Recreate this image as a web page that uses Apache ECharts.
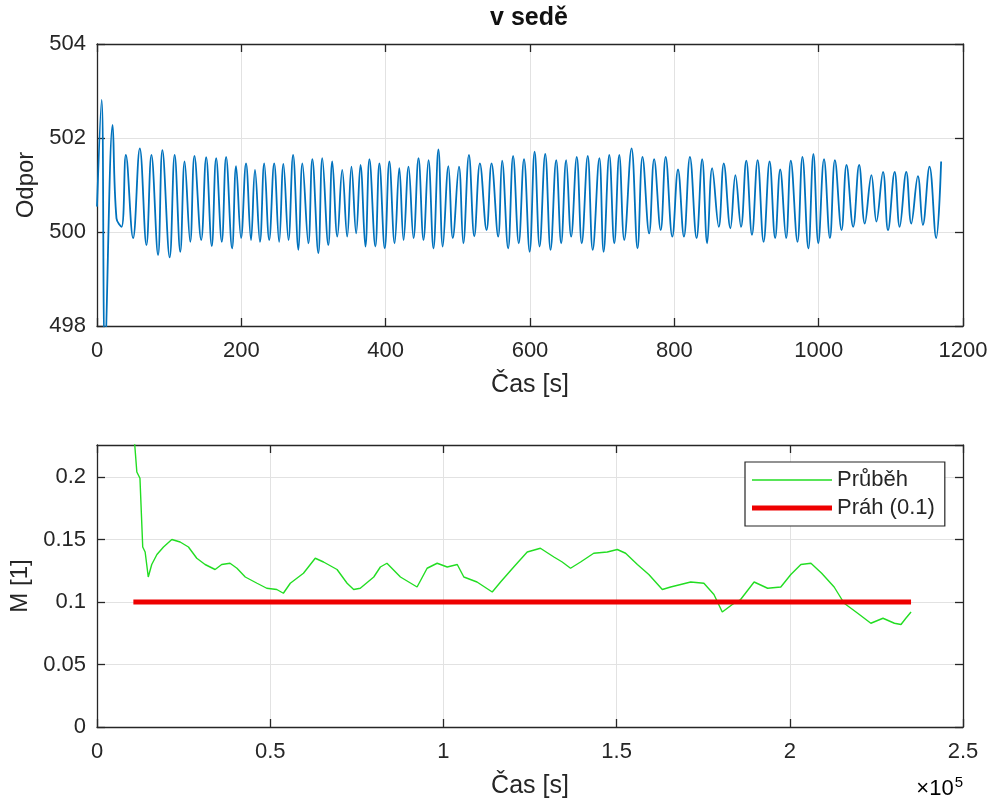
<!DOCTYPE html>
<html>
<head>
<meta charset="utf-8">
<script src="https://cdn.jsdelivr.net/npm/echarts@6/dist/echarts.min.js"></script>
<style>
html,body{margin:0;padding:0;background:#fff;}
#chart{width:996px;height:800px;}
</style>
</head>
<body>
<div id="chart"></div>
<script>
// ---- Top panel: resistance vs time ----
const titleText = 'v sedě';
const topXTicks = [0, 200, 400, 600, 800, 1000, 1200];
const topYTicks = [498, 500, 502, 504];
const timeTop = [0,6.4,11,21.6,27,34,40,50,59.3,68.5,75.4,84.6,90.6,100.7,107.6,115.4,121.4,129.2,135,144.4,151.3,159,165.1,172.9,178.9,187.2,192.7,199.6,206.5,213.4,218.9,225.8,231.7,238.6,245.5,252.4,258.3,
265.3,271.7,279.1,284.6,292.9,298.4,306.7,312.2,320.5,326.0,333.0,339.8,346.7,352.6,359.1,365.1,371.9,377.5,385.7,391.3,398.7,405.1,412.4,418.9,424.8,431.7,438.6,445.5,452.4,459.3,466.2,473.1,479.1,486.9,493,501.6,507.6,515.4,522.8,530.6,539.8,546.7,555.9,561.4,569.7,576.6,584.4,591.7,599.5,606.4,613.3,621.1,628.5,636.3,643.2,650.1,657.0,664.8,671.7,680.0,686.9,696.1,702,709.9,716.8,723.7,730.6,
740.7,749.0,755.9,765.1,772.0,781.1,788.0,797.2,805.1,813.3,821.6,830.8,838.6,845.5,852.4,861.6,868.5,877.7,884.6,892.4,899.7,907.6,915.4,923.7,932.0,939.7,946.7,954.9,961.4,970.6,977.5,985.7,992.7,999.5,1007.4,1015.6,1022.5,1031.7,1038.6,1047.8,1056.1,1063.9,1073.1,1080.0,1089.2,1096.1,1105.3,1112.2,1121.4,1128.3,1137.5,1144.4,1153.6,1162.8,1169.7];
const resistance = [500.54,502.81,497.5,502.28,500.29,500.11,501.64,499.87,501.78,499.72,501.64,499.51,501.74,499.46,501.64,499.58,501.50,499.79,501.62,499.83,501.59,499.70,501.57,499.79,501.60,499.65,501.40,499.87,501.46,499.83,501.32,499.79,501.46,499.83,501.46,499.79,501.45,
499.83,501.64,499.62,501.46,499.76,501.55,499.55,501.57,499.72,501.50,499.90,501.32,499.90,501.39,499.97,501.43,499.69,501.55,499.69,501.46,499.65,501.50,499.76,501.36,499.83,501.39,499.87,501.57,499.83,501.53,499.65,501.76,499.69,501.40,499.87,501.39,499.76,501.64,499.91,501.46,500.04,501.46,499.90,501.52,499.65,501.62,499.76,501.55,499.58,501.71,499.69,501.66,499.62,501.53,499.76,501.53,499.90,501.60,499.76,501.62,499.62,501.57,499.58,501.64,499.76,501.64,499.83,
501.78,499.65,501.60,499.97,501.55,500.04,501.60,499.90,501.33,499.90,501.60,499.87,501.55,499.76,501.36,500.11,501.46,500.08,501.21,500.11,501.52,499.94,501.53,499.79,501.50,499.87,501.33,499.87,501.52,499.79,501.60,499.65,501.66,499.76,501.55,499.87,501.53,500.04,501.43,500.11,501.43,500.18,501.21,500.22,501.28,500.04,501.28,500.11,501.28,500.18,501.19,500.15,501.39,499.87,501.50];

// ---- Bottom panel: M vs time (x 1e5) ----
const bottomXTicks = [0, 50000, 100000, 150000, 200000, 250000];
const bottomYTicks = [0, 0.05, 0.1, 0.15, 0.2];
const bottomYMax = 0.2256;
const timeBottom = [10500,11500,12400,13200,13900,14800,15800,17300,19200,21600,24000,26400,28800,31200,34100,36000,38400,40400,42800,46200,49000,51900,53800,55800,59600,63000,65400,69300,72200,74100,76000,79900,81800,83700,87600,92400,95300,98200,101100,104000,105900,109700,114100,116500,120300,124200,128000,131900,134300,136700,139600,143400,147300,150200,152600,156000,159300,163200,165600,171400,175200,178100,180500,183400,185800,189700,193600,197400,200300,203200,206100,209200,212800,215700,219600,223400,226900,230200,232100,233500,235000];
const mValues = [0.24,0.204,0.199,0.144,0.140,0.120,0.130,0.138,0.144,0.150,0.148,0.144,0.135,0.130,0.126,0.130,0.131,0.127,0.120,0.115,0.111,0.110,0.107,0.115,0.123,0.135,0.132,0.126,0.115,0.110,0.111,0.120,0.128,0.131,0.120,0.112,0.127,0.131,0.128,0.130,0.120,0.116,0.108,0.116,0.128,0.140,0.143,0.136,0.132,0.127,0.132,0.139,0.140,0.142,0.139,0.130,0.122,0.110,0.112,0.116,0.115,0.106,0.092,0.098,0.102,0.116,0.111,0.112,0.122,0.130,0.131,0.123,0.112,0.099,0.091,0.083,0.087,0.083,0.082,0.087,0.092];
const thresholdTime = [10500, 235000];
const thresholdValue = [0.1, 0.1];
const legendNames = ['Průběh', 'Práh (0.1)'];

const FONT = 'Liberation Sans, Arial, Helvetica, sans-serif';
const INK = '#262626';
const GRIDC = '#e2e2e2';
const BLUE = '#0072BD';
const GREEN = '#22dd22';
const RED = '#ee0000';

function pairs(xs, ys) { return xs.map((x, i) => [x, ys[i]]); }

function mainX(gi, min, max, interval, fmt) {
  return {
    type: 'value', gridIndex: gi, min: min, max: max, interval: interval,
    position: 'bottom',
    name: 'Čas [s]', nameLocation: 'middle', nameGap: 47,
    nameTextStyle: { fontSize: 25, color: INK, fontFamily: FONT },
    axisLine: { show: true, onZero: false, lineStyle: { color: INK, width: 1.3 } },
    axisTick: { show: true, inside: true, length: 8, lineStyle: { color: INK, width: 1.3 } },
    axisLabel: { fontSize: 22, color: INK, fontFamily: FONT, margin: 14, formatter: fmt },
    splitLine: { show: true, lineStyle: { color: GRIDC, width: 1 } }
  };
}
function boxX(gi, min, max, interval) {
  return {
    type: 'value', gridIndex: gi, min: min, max: max, interval: interval, position: 'top',
    axisLine: { show: true, onZero: false, lineStyle: { color: INK, width: 1.3 } },
    axisTick: { show: true, inside: true, length: 8, lineStyle: { color: INK, width: 1.3 } },
    axisLabel: { show: false }, splitLine: { show: false }
  };
}
function mainY(gi, min, max, interval, name, showMax, gap) {
  return {
    type: 'value', gridIndex: gi, min: min, max: max, interval: interval, position: 'left',
    name: name, nameLocation: 'middle', nameGap: gap, nameRotate: 90,
    nameTextStyle: { fontSize: 24, color: INK, fontFamily: FONT },
    axisLine: { show: true, onZero: false, lineStyle: { color: INK, width: 1.3 } },
    axisTick: { show: true, inside: true, length: 8, lineStyle: { color: INK, width: 1.3 } },
    axisLabel: { fontSize: 22, color: INK, fontFamily: FONT, margin: 11, showMaxLabel: showMax },
    splitLine: { show: true, lineStyle: { color: GRIDC, width: 1 } }
  };
}
function boxY(gi, min, max, interval) {
  return {
    type: 'value', gridIndex: gi, min: min, max: max, interval: interval, position: 'right',
    axisLine: { show: true, onZero: false, lineStyle: { color: INK, width: 1.3 } },
    axisTick: { show: true, inside: true, length: 8, lineStyle: { color: INK, width: 1.3 } },
    axisLabel: { show: false }, splitLine: { show: false }
  };
}

const chart = echarts.init(document.getElementById('chart'), null, { renderer: 'canvas' });
const topInterval = topXTicks[1] - topXTicks[0];
const bInterval = bottomXTicks[1] - bottomXTicks[0];
const topYInterval = topYTicks[1] - topYTicks[0];
const bYInterval = bottomYTicks[1] - bottomYTicks[0];
const option = {
  backgroundColor: '#ffffff',
  animation: false,
  textStyle: { fontFamily: FONT },
  title: {
    text: titleText, left: 529, top: 6, textAlign: 'center', padding: 0,
    textStyle: { fontSize: 25, fontWeight: 'bold', color: '#111', fontFamily: FONT }
  },
  grid: [
    { left: 97, right: 33, top: 44, height: 282, containLabel: false, outerBoundsMode: 'none' },
    { left: 97, right: 33, top: 445, height: 282, containLabel: false, outerBoundsMode: 'none' }
  ],
  xAxis: [
    mainX(0, topXTicks[0], topXTicks[topXTicks.length - 1], topInterval, v => String(v)),
    boxX(0, topXTicks[0], topXTicks[topXTicks.length - 1], topInterval),
    mainX(1, bottomXTicks[0], bottomXTicks[bottomXTicks.length - 1], bInterval, v => String(+(v / 1e5).toFixed(2))),
    boxX(1, bottomXTicks[0], bottomXTicks[bottomXTicks.length - 1], bInterval)
  ],
  yAxis: [
    mainY(0, topYTicks[0], topYTicks[topYTicks.length - 1], topYInterval, 'Odpor', true, 58),
    boxY(0, topYTicks[0], topYTicks[topYTicks.length - 1], topYInterval),
    mainY(1, bottomYTicks[0], bottomYMax, bYInterval, 'M [1]', false, 60),
    boxY(1, bottomYTicks[0], bottomYMax, bYInterval)
  ],
  legend: {
    data: [
      { name: legendNames[0], icon: 'path://M0,0L80,0L80,1.6L0,1.6Z' },
      { name: legendNames[1], icon: 'path://M0,0L80,0L80,5L0,5Z' }
    ],
    orient: 'vertical', left: 745, top: 462,
    itemWidth: 80, itemHeight: 16, itemGap: 6,
    symbolKeepAspect: true,
    padding: [7, 10, 7, 7],
    backgroundColor: '#fff', borderColor: INK, borderWidth: 1.2,
    textStyle: { fontSize: 22, color: INK, fontFamily: FONT },
    selectedMode: false
  },
  series: [
    {
      type: 'line', xAxisIndex: 0, yAxisIndex: 0,
      data: pairs(timeTop, resistance),
      showSymbol: false, symbol: 'none', smooth: 0.4, clip: true,
      lineStyle: { color: BLUE, width: 1.8 }
    },
    {
      name: legendNames[0], type: 'line', xAxisIndex: 2, yAxisIndex: 2,
      data: pairs(timeBottom, mValues),
      showSymbol: false, symbol: 'none', clip: true,
      lineStyle: { color: GREEN, width: 1.4 }, itemStyle: { color: GREEN }
    },
    {
      name: legendNames[1], type: 'line', xAxisIndex: 2, yAxisIndex: 2,
      data: pairs(thresholdTime, thresholdValue),
      showSymbol: false, symbol: 'none', clip: true,
      lineStyle: { color: RED, width: 5 }, itemStyle: { color: RED }
    }
  ],
  graphic: [
    {
      type: 'text', right: 33, top: 775,
      style: {
        text: '{a|×10}{b|5}',
        rich: {
          a: { fontSize: 22, color: '#444', fontFamily: FONT },
          b: { fontSize: 15, color: '#444', fontFamily: FONT, padding: [0, 0, 13, 1] }
        }
      }
    }
  ]
};
chart.setOption(option);
</script>
</body>
</html>
